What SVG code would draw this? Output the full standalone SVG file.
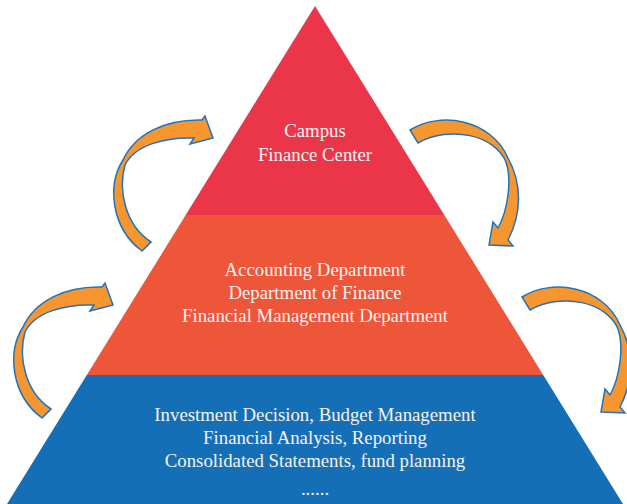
<svg xmlns="http://www.w3.org/2000/svg" width="627" height="504" viewBox="0 0 627 504">
  <style>
    .label { font-family: "Liberation Serif", "Times New Roman", serif; font-size: 18.8px; fill: #F7F2F2; text-anchor: middle; }
    .flow { fill: #F7952E; stroke: #1F74BC; stroke-width: 1.5; stroke-linejoin: miter; }
  </style>
  <defs>
    <!-- curved block arrow sweeping up and to the right -->
    <path id="arrowUpRight" d="M 142,251 C 111,228 107,185 123,160 C 135,134 165,119 202,120 L 205,116 L 213,138 L 190,144 L 194,138 C 165,137 135,145 125,165 C 118,190 125,225 151,242 Z"/>
    <!-- curved block arrow sweeping right and down -->
    <path id="arrowDownRight" d="M 410,130 C 440,111 491,119 508,158 C 523,185 521,215 508,240 L 513,246 L 489,245 L 493,222 L 498,228 C 508,210 512,180 506,162 C 495,135 450,125 418,143 Z"/>
  </defs>

  <rect width="627" height="504" fill="#FFFFFF"/>

  <g id="level-top">
    <polygon points="315,6 185.7,215 444.3,215" fill="#EB364A"/>
    <text class="label" x="315" y="137">Campus</text>
    <text class="label" x="315" y="161">Finance Center</text>
  </g>

  <g id="level-middle">
    <polygon points="185.7,215 444.3,215 543.2,375 86.8,375" fill="#ED5639"/>
    <text class="label" x="315" y="276">Accounting Department</text>
    <text class="label" x="315" y="299">Department of Finance</text>
    <text class="label" x="315" y="322">Financial Management Department</text>
  </g>

  <g id="level-bottom">
    <polygon points="86.8,375 543.2,375 623,504 7,504" fill="#146FB7"/>
    <text class="label" x="315" y="421">Investment Decision, Budget Management</text>
    <text class="label" x="315" y="444">Financial Analysis, Reporting</text>
    <text class="label" x="315" y="467">Consolidated Statements, fund planning</text>
    <text class="label" x="315" y="495">......</text>
  </g>

  <g id="connectors">
    <use href="#arrowUpRight" class="flow"/>
    <use href="#arrowDownRight" class="flow"/>
    <use href="#arrowUpRight" class="flow" transform="translate(-100,167)"/>
    <use href="#arrowDownRight" class="flow" transform="translate(112,167)"/>
  </g>
</svg>
